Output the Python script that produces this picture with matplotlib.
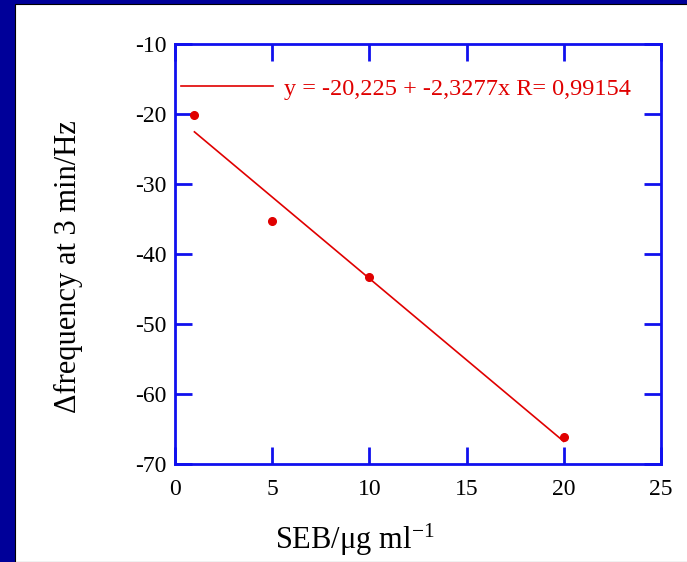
import numpy as np
import matplotlib.pyplot as plt
from matplotlib.patches import Rectangle

# Data
seb = [1, 5, 10, 20]
dfreq = [-20.2, -35.3, -43.3, -66.2]

# Linear fit as printed on the chart
intercept = -20.225
slope = -2.3277
r_value = 0.99154
fit_x = np.array([1, 20])
fit_y = intercept + slope * fit_x

x_ticks = [0, 5, 10, 15, 20, 25]
y_ticks = [-70, -60, -50, -40, -30, -20, -10]

plt.rcParams['font.family'] = ['Liberation Serif', 'DejaVu Serif']
plt.rcParams['mathtext.fontset'] = 'stix'
plt.rcParams['axes.unicode_minus'] = False

blue = '#1010ee'
red = '#e00000'

fig = plt.figure(figsize=(6.87, 5.62), dpi=100)
fig.patch.set_facecolor('#000099')
# white panel inside the dark blue frame
fig.add_artist(Rectangle((15 / 687, 0), 1, 1 - 4 / 562, transform=fig.transFigure,
                         facecolor='white', edgecolor='black', linewidth=0.8, zorder=-10))

ax = fig.add_axes([175 / 687, 1 - 464 / 562, 486 / 687, 420 / 562])
ax.set_facecolor('white')

ax.plot(fit_x, fit_y, color=red, lw=1.2,
        label=f'y = {intercept:.3f} + {slope:.4f}x R= {r_value:.5f}'.replace('.', ','))
ax.plot(seb, dfreq, 'o', color=red, ms=5.5, linestyle='none')

ax.set_xlim(0, 25)
ax.set_ylim(-70, -10)
ax.set_xticks(x_ticks)
ax.set_yticks(y_ticks)

for s in ax.spines.values():
    s.set_color(blue)
    s.set_linewidth(2)
ax.tick_params(direction='in', length=12, width=2, color=blue, labelsize=17,
               top=True, right=True)
ax.tick_params(axis='x', pad=11)
ax.tick_params(axis='y', pad=6)

ax.set_xlabel('SEB/μg ml$^{\\mathregular{-1}}$', fontsize=22)
ax.set_ylabel('Δfrequency at 3 min/Hz', fontsize=22)
ax.xaxis.set_label_coords(0.37, -0.135)
ax.yaxis.set_label_coords(-0.19, 0.47)

ax.legend(loc='center left', bbox_to_anchor=(6 / 486, 0.893), frameon=False,
          borderpad=0, borderaxespad=0, handlelength=3.8, handletextpad=0.45,
          fontsize=17.5, labelcolor='linecolor')

fig.savefig('out.png', dpi=100, facecolor=fig.get_facecolor())
